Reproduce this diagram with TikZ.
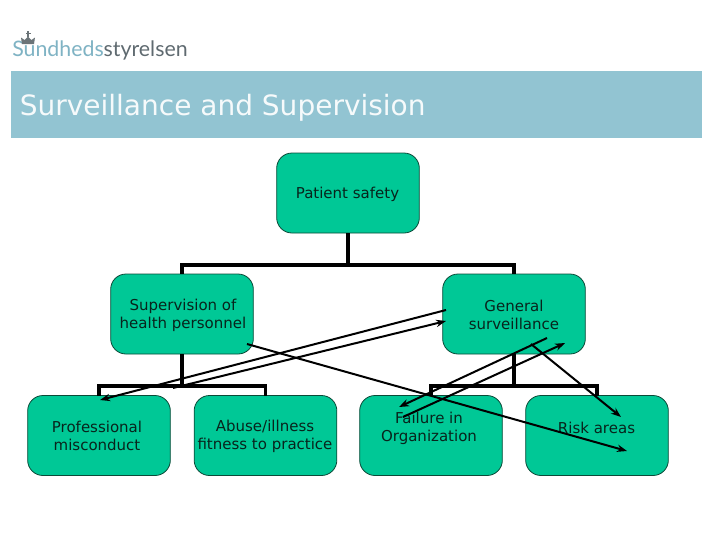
\documentclass[tikz,border=0pt]{standalone}
\usepackage{fontspec}
\setmainfont{DejaVu Sans}
\newfontfamily\logofont{Lato}
\usetikzlibrary{arrows.meta}
\definecolor{boxgreen}{HTML}{00C896}
\definecolor{boxedge}{HTML}{0B4A38}
\definecolor{banner}{HTML}{92C4D2}
\definecolor{logoblue}{HTML}{7FB3C4}
\definecolor{logogrey}{HTML}{5F6A70}
\definecolor{crown}{HTML}{6B7478}
\definecolor{ink}{HTML}{08241C}
\tikzset{
  x=0.75pt,y=-0.75pt,
  orgbox/.style={draw=boxedge,line width=0.6pt,fill=boxgreen,rounded corners=11.5pt,
    minimum width=107pt,minimum height=60pt,inner sep=0pt,outer sep=0pt},
  boxtext/.style={align=center,inner sep=0pt,text=ink,font=\fontsize{11.25}{13.5}\selectfont},
  tree/.style={line width=2.5pt,black},
  cross/.style={line width=1.5pt,black,-{Stealth[length=7.5pt,width=5.5pt]}},
}
\begin{document}
\begin{tikzpicture}
\useasboundingbox (0,0) rectangle (720,540);
\fill[white] (0,0) rectangle (720,540);
% banner
\node[fill=banner,minimum width=518.25pt,minimum height=50.25pt,inner sep=0pt,outer sep=0pt] (bannerbox) at (356.5,104.5) {};
\node[anchor=base west,inner sep=0pt,text=white!92!banner,font=\fontsize{21}{25}\selectfont] (title) at (19.5,115) {Surveillance and Supervision};
% logo
\node[anchor=base west,inner sep=0pt,font=\logofont\fontsize{16}{19}\selectfont] (logo) at (12,56.5) {\textcolor{logoblue}{Sundheds}\textcolor{logogrey}{styrelsen}};
\fill[crown] (22,44) -- (21,37.5) -- (24.5,40) -- (28,36.5) -- (31.5,40) -- (35,37.5) -- (34,44) -- cycle;
\fill[crown] (27.1,31) rectangle (28.9,37);
\fill[crown] (25.5,32.6) rectangle (30.5,34.2);
% boxes
\node[orgbox] (ps) at (348,193) {};
\node[orgbox] (sup) at (182,314) {};
\node[orgbox] (gen) at (514,314) {};
\node[orgbox] (prof) at (99,435.5) {};
\node[orgbox] (abuse) at (265.5,435.5) {};
\node[orgbox] (fail) at (431,435.5) {};
\node[orgbox] (risk) at (597,435.5) {};
% tree connectors
\draw[tree] (ps.south) -- ++(0,32) -| (sup.north);
\draw[tree] (ps.south) -- ++(0,32) -| (gen.north);
\draw[tree] (sup.south) -- ++(0,32) -| (prof.north);
\draw[tree] (sup.south) -- ++(0,32) -| (abuse.north);
\draw[tree] (gen.south) -- ++(0,32) -| (fail.north);
\draw[tree] (gen.south) -- ++(0,32) -| (risk.north);
% box labels
\node[boxtext] (pst) at (347.5,194.5) {Patient safety};
\node[boxtext] (supt) at (183,315) {Supervision of\\health personnel};
\node[boxtext] (gent) at (514,314.5) {General\\surveillance};
\node[boxtext] (proft) at (97,436) {Professional\\misconduct};
\node[boxtext] (abuset) at (265,436) {Abuse/illness\\fitness to practice};
\node[boxtext] (failt) at (429,428) {Failure in\\Organization};
\node[boxtext] (riskt) at (596.5,427.5) {Risk areas};
% crossing arrows
\coordinate (a1s) at (446,310); \coordinate (a1e) at (100,400);
\coordinate (a2s) at (173,388); \coordinate (a2e) at (446,321);
\coordinate (a3s) at (247,344); \coordinate (a3e) at (627,451);
\coordinate (a4s) at (547,338); \coordinate (a4e) at (399,407);
\coordinate (a5s) at (403,417); \coordinate (a5e) at (565,343);
\coordinate (a6s) at (531,344); \coordinate (a6e) at (621,417);
\draw[cross] (a1s) -- (a1e);
\draw[cross] (a2s) -- (a2e);
\draw[cross] (a3s) -- (a3e);
\draw[cross] (a4s) -- (a4e);
\draw[cross] (a5s) -- (a5e);
\draw[cross] (a6s) -- (a6e);
\end{tikzpicture}
\end{document}
